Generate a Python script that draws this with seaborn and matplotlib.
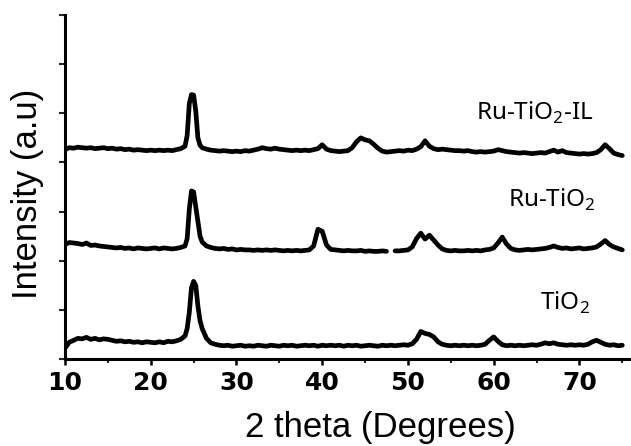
import numpy as np
import pandas as pd
import matplotlib
matplotlib.use("Agg")
import matplotlib.pyplot as plt
import seaborn as sns

# ---- data (2-theta grid and intensities) ----
x_a = np.arange(10.0, 24.01, 0.5)    # 10.0 .. 24.0
x_b = np.arange(24.25, 26.01, 0.25)  # 24.25 .. 26.0
x_c = np.arange(26.5, 75.01, 0.5)    # 26.5 .. 75.0
two_theta = np.concatenate([x_a, x_b, x_c])

tio2 = [
    0.22, 0.34, 0.38, 0.42, 0.41, 0.44, 0.40, 0.42, 0.39, 0.41,
    0.40, 0.38, 0.36, 0.37, 0.35, 0.36, 0.34, 0.35, 0.33, 0.35,
    0.34, 0.33, 0.35, 0.33, 0.36, 0.35, 0.37, 0.40, 0.47,
    0.62, 0.95, 1.45, 1.58, 1.50, 1.08, 0.78, 0.62,
    0.42, 0.33, 0.30, 0.28, 0.27, 0.28, 0.26, 0.27, 0.28, 0.26,
    0.27, 0.26, 0.28, 0.27, 0.26, 0.28, 0.27, 0.26, 0.28, 0.27,
    0.28, 0.26, 0.27, 0.28, 0.27, 0.28, 0.26, 0.28, 0.27, 0.28,
    0.27, 0.28, 0.26, 0.28, 0.27, 0.28, 0.26, 0.27, 0.28, 0.27,
    0.26, 0.28, 0.27, 0.28, 0.27, 0.28, 0.29, 0.28, 0.31, 0.40,
    0.56, 0.52, 0.50, 0.45, 0.35, 0.30, 0.28, 0.27, 0.28, 0.27,
    0.28, 0.27, 0.28, 0.27, 0.28, 0.30, 0.38, 0.45, 0.36, 0.29,
    0.27, 0.28, 0.27, 0.28, 0.27, 0.28, 0.29, 0.28, 0.30, 0.33,
    0.31, 0.33, 0.30, 0.29, 0.28, 0.29, 0.28, 0.29, 0.28, 0.30,
    0.35, 0.38, 0.34, 0.30, 0.28, 0.29, 0.27, 0.28,
]

ru_tio2 = [
    2.33, 2.37, 2.36, 2.35, 2.33, 2.36, 2.31, 2.32, 2.30, 2.29,
    2.28, 2.27, 2.26, 2.27, 2.25, 2.26, 2.24, 2.26, 2.25, 2.24,
    2.25, 2.26, 2.24, 2.26, 2.25, 2.24, 2.25, 2.27, 2.30,
    2.45, 3.05, 3.42, 3.40, 3.10, 2.80, 2.50, 2.38,
    2.30, 2.27, 2.25, 2.24, 2.25, 2.23, 2.24, 2.22, 2.23, 2.22,
    2.22, 2.21, 2.22, 2.21, 2.22, 2.21, 2.22, 2.21, 2.20, 2.21,
    2.20, 2.21, 2.20, 2.21, 2.22, 2.30, 2.64, 2.60, 2.32, 2.23,
    2.22, 2.21, 2.20, 2.21, 2.20, 2.20, 2.21, 2.19, 2.20, 2.19,
    2.19, 2.20, 2.19, np.nan, 2.20, 2.20, 2.21, 2.22, 2.28, 2.45,
    2.56, 2.44, 2.52, 2.42, 2.32, 2.24, 2.21, 2.20, 2.21, 2.20,
    2.20, 2.21, 2.20, 2.21, 2.20, 2.22, 2.23, 2.26, 2.36, 2.48,
    2.34, 2.25, 2.22, 2.21, 2.22, 2.23, 2.22, 2.23, 2.24, 2.25,
    2.27, 2.30, 2.27, 2.25, 2.26, 2.24, 2.25, 2.26, 2.24, 2.25,
    2.26, 2.28, 2.34, 2.41, 2.33, 2.28, 2.25, 2.22,
]

ru_tio2_il = [
    4.26, 4.30, 4.29, 4.31, 4.30, 4.29, 4.30, 4.28, 4.29, 4.30,
    4.28, 4.29, 4.27, 4.28, 4.26, 4.27, 4.25, 4.26, 4.25, 4.24,
    4.25, 4.24, 4.25, 4.24, 4.25, 4.24, 4.26, 4.28, 4.33,
    4.55, 5.20, 5.38, 5.37, 5.05, 4.50, 4.35, 4.30,
    4.27, 4.25, 4.24, 4.23, 4.24, 4.23, 4.22, 4.23, 4.22, 4.24,
    4.23, 4.25, 4.27, 4.30, 4.28, 4.27, 4.29, 4.27, 4.26, 4.25,
    4.24, 4.25, 4.24, 4.25, 4.24, 4.26, 4.28, 4.36, 4.27, 4.24,
    4.23, 4.22, 4.23, 4.24, 4.30, 4.42, 4.50, 4.46, 4.44, 4.37,
    4.29, 4.23, 4.21, 4.22, 4.23, 4.24, 4.23, 4.25, 4.24, 4.27,
    4.32, 4.44, 4.33, 4.28, 4.26, 4.27, 4.26, 4.25, 4.24, 4.24,
    4.23, 4.24, 4.22, 4.21, 4.22, 4.21, 4.22, 4.23, 4.26, 4.24,
    4.22, 4.21, 4.20, 4.19, 4.20, 4.19, 4.18, 4.19, 4.20, 4.19,
    4.22, 4.25, 4.21, 4.24, 4.20, 4.19, 4.18, 4.17, 4.18, 4.17,
    4.18, 4.20, 4.26, 4.36, 4.28, 4.19, 4.16, 4.14,
]

series_names = ["TiO$_2$", "Ru-TiO$_2$", "Ru-TiO$_2$-IL"]
series_values = [tio2, ru_tio2, ru_tio2_il]
label_x = [68.3, 66.8, 64.8]
label_y = [1.14, 3.24, 5.0]
x_ticks = [10, 20, 30, 40, 50, 60, 70]

# ---- style ----
sns.set_theme(style="ticks")
plt.rcParams["font.family"] = ["Liberation Sans", "DejaVu Sans"]
plt.rcParams["mathtext.fontset"] = "custom"
plt.rcParams["mathtext.rm"] = "Noto Sans"

fig = plt.figure(figsize=(6.31, 4.46), dpi=100)
ax = fig.add_axes([65 / 631, 87 / 446, 565 / 631, 344 / 446])

for name, vals in zip(series_names, series_values):
    y = np.asarray(vals, dtype=float)
    seg = np.cumsum(np.isnan(y))
    df = pd.DataFrame({"two_theta": two_theta, "intensity": y, "seg": seg}).dropna()
    sns.lineplot(data=df, x="two_theta", y="intensity", units="seg",
                 estimator=None, color="black", lw=3.4, ax=ax, legend=False)

for name, lx, ly in zip(series_names, label_x, label_y):
    ax.text(lx, ly, name, ha="center", va="center", fontsize=17.5,
            family="Noto Sans", color="black")

ax.set_xlim(10, 75.9)
ax.set_ylim(0, 7)
ax.set_xticks(x_ticks)
ax.set_xticks(np.arange(15, 76, 10), minor=True)
ax.set_xticklabels([str(t) for t in x_ticks], fontsize=18, fontweight="bold",
                   family="DejaVu Sans")
ax.set_yticks(range(0, 8))
ax.set_yticklabels([])
ax.tick_params(axis="x", which="major", direction="out", length=4, width=1.8,
               pad=5, colors="black")
ax.tick_params(axis="x", which="minor", direction="out", length=3, width=1.5)
ax.tick_params(axis="y", which="major", direction="out", length=4.5, width=1.5)

for side in ["top", "right"]:
    ax.spines[side].set_visible(False)
for side in ["left", "bottom"]:
    ax.spines[side].set_linewidth(2.2)
    ax.spines[side].set_color("black")

ax.set_xlabel("2 theta (Degrees)", fontsize=25, color="black")
ax.xaxis.set_label_coords(380 / 631, (446 - 427) / 446, transform=fig.transFigure)
ax.xaxis.label.set_va("center")
ax.set_ylabel("Intensity (a.u)", fontsize=25, color="black")
ax.yaxis.set_label_coords(28 / 631, (446 - 194) / 446, transform=fig.transFigure)
ax.yaxis.label.set_va("center")

fig.savefig("out.png", dpi=100)
